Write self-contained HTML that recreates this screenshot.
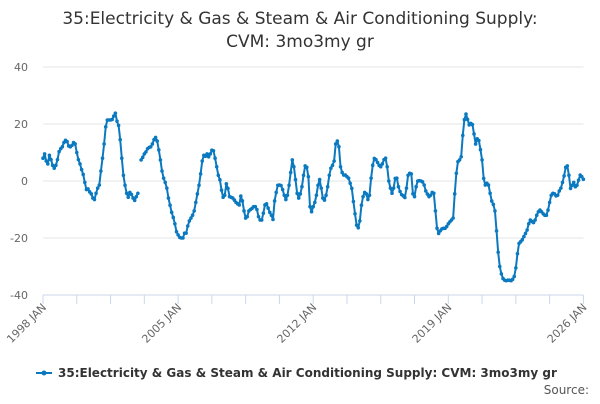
<!DOCTYPE html>
<html><head><meta charset="utf-8"><style>
html,body{margin:0;padding:0;background:#fff;}
body{width:600px;height:400px;overflow:hidden;font-family:"DejaVu Sans","Liberation Sans",sans-serif;}
</style></head><body>
<svg id="chart" width="600" height="400" xmlns="http://www.w3.org/2000/svg" font-family="DejaVu Sans, Liberation Sans, sans-serif">
<text x="300" y="24" text-anchor="middle" font-size="17" fill="#333">35:Electricity &amp; Gas &amp; Steam &amp; Air Conditioning Supply:</text>
<text x="300" y="47" text-anchor="middle" font-size="17" fill="#333">CVM: 3mo3my gr</text>
<g id="grid"></g>
<g id="xaxis"></g>
<g id="series"></g>
<g>
<line x1="36" y1="373" x2="52" y2="373" stroke="#0b79c0" stroke-width="2"/>
<circle cx="44" cy="373" r="2.5" fill="#0b79c0"/>
<text x="58" y="377" font-size="12" font-weight="bold" fill="#333">35:Electricity &amp; Gas &amp; Steam &amp; Air Conditioning Supply: CVM: 3mo3my gr</text>
</g>
<text x="589" y="394" text-anchor="end" font-size="12" fill="#555">Source:</text>
</svg>
<script>
const yTicks=[40,20,0,-20,-40];
const xLabels=["1998 JAN","2005 JAN","2012 JAN","2019 JAN","2026 JAN"];
const xLabelMonths=[0,84,168,252,336];
const values=[
8,9.5,7,6,9,7.5,5.5,4.5,5.5,7.5,10.3,11.3,
12,13.5,14.3,13.8,12.3,12,12.5,13.5,13,10,7.5,6,
4,2.3,-0.5,-3,-2.8,-3.8,-4.5,-6,-6.5,-4.3,-2.5,-1.4,
3.5,8,13,19,21.4,21.4,21.4,21.6,22.8,23.8,21,19.5,
14.5,8,2,-1.5,-4.3,-5.7,-4,-4.7,-6,-6.8,-5.5,-4.3,
null,7.4,8.3,9.5,10.2,11.3,11.8,12,13,14.5,15.3,14,
10.9,7.4,3.5,1,-0.5,-2.5,-6,-8.5,-11,-12.8,-15,-17.8,
-18.9,-19.8,-20,-20,-18.3,-18.3,-15.8,-14,-13,-12,-10.5,-7.5,
-4.5,-1.5,2.5,7,9,8.7,9.5,8.5,9.5,10.8,10.6,8,
5,2,0.4,-3.2,-5.7,-5,-1,-2.6,-5.5,-5.7,-6,-6.7,
-7.5,-8,-8.4,-5.3,-7,-10.5,-13,-12.5,-10.5,-10,-9.6,-9,
-9,-10,-12.5,-13.7,-13.7,-11.3,-8.4,-8,-9.5,-11,-12,-13.5,
-7,-4,-1.5,-1.4,-1.6,-3,-5,-6.5,-5,-1.5,3,7.4,
5,0.5,-4.3,-6,-4.5,-2,2,5.3,4.8,1.5,-9,-10.8,
-9,-7.5,-5,-1.5,0.5,-2.5,-6,-6.7,-5,-2,2,4.5,
5.5,7,13,14,12,5,3,2.1,2.1,1.5,1,-0.8,
-2.6,-7.2,-11.5,-15.5,-16.4,-14,-8.5,-5.5,-4,-4.5,-6.5,-5,
1,5.5,7.9,7.5,6.5,5.5,5,6,7.5,8,5,0,
-2.5,-4.3,-2.5,0.9,1,-2,-3.7,-4.8,-5.2,-5.8,-2.5,2,
2.7,2.5,-4.5,-5.5,-2,0,0.1,0,-0.3,-1.4,-3.5,-4.6,
-5.5,-5,-4,-4.3,-10.5,-16.6,-18.4,-17.5,-16.8,-16.6,-16.6,-16,
-15,-14.3,-13.7,-13,-4.5,2.7,6.8,7.4,8.5,16,21.5,23.5,
21.6,19.7,20.2,19.8,16.5,13,14.8,14.2,11,7.4,0.9,-1.4,
-0.8,-1.4,-4.3,-7,-8.2,-10.5,-17.5,-25,-30,-32.6,-34.2,-34.8,
-35,-34.8,-34.8,-35,-34.5,-33.5,-30.5,-25.5,-21.9,-21.3,-20.6,-19.5,
-18.4,-17.2,-15,-13.7,-14.2,-14.6,-13.7,-12,-10.8,-10.2,-10.8,-11.5,
-12,-12,-10.2,-7.5,-5,-4.3,-4.5,-5.2,-5,-3.5,-2.5,-0.5,
1.8,4.8,5.3,2,-2.6,-1.5,-0.5,-2,-1.5,0.3,2.1,1.5,
0.6
];
const NS="http://www.w3.org/2000/svg";
const X0=43,X1=583.4,Y0=181,YS=57/20,NM=336;
function xs(m){return X0+(X1-X0)*m/NM;}
function ys(v){return Y0-v*YS;}
function mk(tag,attrs,parent){const e=document.createElementNS(NS,tag);for(const k in attrs)e.setAttribute(k,attrs[k]);parent.appendChild(e);return e;}
const grid=document.getElementById('grid');
yTicks.forEach(t=>{
  const l=mk('line',{x1:X0,x2:X1,y1:ys(t),y2:ys(t),stroke:t===-40?'#ccd6eb':'#e6e6e6','stroke-width':1},grid);
  
  
  const tx=mk('text',{x:28,y:ys(t)+4,'text-anchor':'end','font-size':11,fill:'#666'},grid);
  tx.textContent=t;
  
  
});
const xa=document.getElementById('xaxis');
for(let m=0;m<=NM;m+=21){
  const t=mk('line',{x1:xs(m),x2:xs(m),y1:295,y2:304,stroke:'#ccd6eb','stroke-width':1},xa);
  
  
}
xLabels.forEach((lab,i)=>{
  const x=xs(xLabelMonths[i]);
  const tx=mk('text',{x:x+4,y:308,'text-anchor':'end','font-size':11,fill:'#666',transform:`rotate(-45 ${x+4} 308)`},xa);
  tx.textContent=lab;
  
  
});
const s=document.getElementById('series');
let d='',pen=false;
values.forEach((v,m)=>{
  if(v===null){pen=false;return;}
  d+=(pen?'L':'M')+xs(m).toFixed(2)+' '+ys(v).toFixed(2);pen=true;
});
const p=mk('path',{d:d,fill:'none',stroke:'#0b79c0','stroke-width':2,'stroke-linejoin':'round'},s);


values.forEach((v,m)=>{
  if(v===null)return;
  const c=mk('circle',{cx:xs(m),cy:ys(v),r:1.8,fill:'#0b79c0'},s);
  
  
});
</script>
</body></html>
